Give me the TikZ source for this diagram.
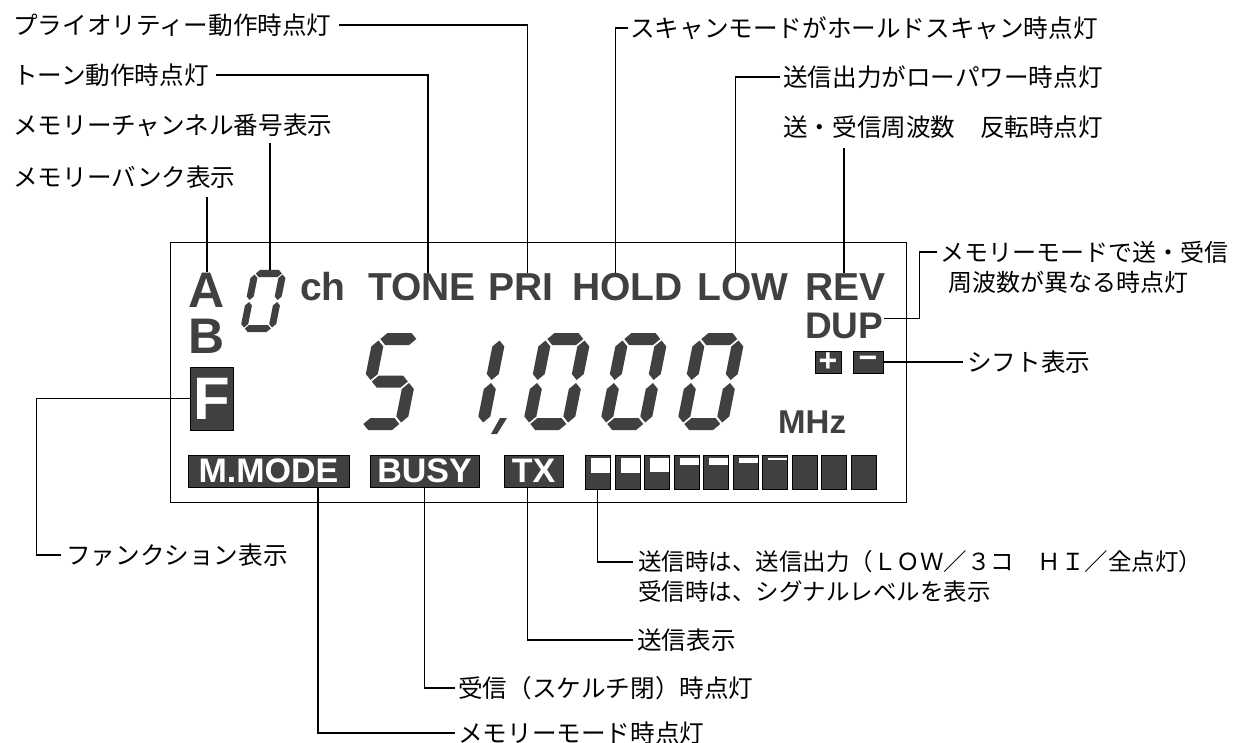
\documentclass[tikz,border=0pt]{standalone}
\usepackage{fontspec}
\newfontfamily\jpfont{Noto Sans CJK JP}
\newfontfamily\lcdfont{Liberation Sans}
\usetikzlibrary{calc}
\definecolor{lcd}{gray}{0.25}
\tikzset{
  lbl/.style={anchor=west, inner sep=0pt, font=\jpfont\fontsize{24.6}{28}\selectfont},
  ld/.style={draw=black, line width=1.1pt},
  word/.style={anchor=base west, inner sep=0pt, text=lcd, font=\lcdfont\bfseries\fontsize{39}{39}\selectfont},
  revbox/.style={fill=lcd, draw=black, line width=0.8pt, text=white, inner sep=0pt, font=\lcdfont\bfseries\fontsize{34}{34}\selectfont},
  seg/.style={fill=lcd},
  lcdframe/.style={draw=black, line width=1pt},
  barbox/.style={fill=lcd, draw=black, line width=0.6pt, minimum width=25pt, minimum height=34pt, inner sep=0pt, anchor=north west},
}
\def\segT{12}\def\segW{51}\def\segH{97}\def\segG{1.5}
\newcommand\HSeg[3]{\fill[seg] ({#1},{#3}) -- ({#1+\segT/2},{#3-\segT/2}) -- ({#2-\segT/2},{#3-\segT/2}) -- ({#2},{#3}) -- ({#2-\segT/2},{#3+\segT/2}) -- ({#1+\segT/2},{#3+\segT/2}) -- cycle;}
\newcommand\VSeg[3]{\fill[seg] ({#1},{#2}) -- ({#1+\segT/2},{#2+\segT/2}) -- ({#1+\segT/2},{#3-\segT/2}) -- ({#1},{#3}) -- ({#1-\segT/2},{#3-\segT/2}) -- ({#1-\segT/2},{#2+\segT/2}) -- cycle;}
\newcommand\SegA{\HSeg{\segT/2+\segG}{\segW-\segT/2-\segG}{\segT/2}}
\newcommand\SegB{\VSeg{\segW-\segT/2}{\segT/2+\segG}{\segH/2-\segG}}
\newcommand\SegC{\VSeg{\segW-\segT/2}{\segH/2+\segG}{\segH-\segT/2-\segG}}
\newcommand\SegD{\HSeg{\segT/2+\segG}{\segW-\segT/2-\segG}{\segH-\segT/2}}
\newcommand\SegE{\VSeg{\segT/2}{\segH/2+\segG}{\segH-\segT/2-\segG}}
\newcommand\SegF{\VSeg{\segT/2}{\segT/2+\segG}{\segH/2-\segG}}
\newcommand\SegM{\HSeg{\segT/2+\segG}{\segW-\segT/2-\segG}{\segH/2}}
\newcommand\DigitAt[3]{\begin{scope}[shift={(#1,#2)},xslant=0.2]#3\end{scope}}
\begin{document}
\begin{tikzpicture}[x=1pt,y=-1pt]
\useasboundingbox (0,0) rectangle (1236,743);

% LCD frame
\draw[lcdframe] (170,243) rectangle (906,502);

% top row words
\node[word, font=\lcdfont\bfseries\fontsize{50}{50}\selectfont] (A) at (188,307) {A};
\node[word, font=\lcdfont\bfseries\fontsize{50}{50}\selectfont] (B) at (188,353) {B};
\node[revbox, minimum width=43pt, minimum height=63pt, font=\lcdfont\bfseries\fontsize{60}{60}\selectfont] (F) at (211.5,398.5) {F};
\node[word] (ch) at (300,300) {ch};
\node[word] (TONE) at (368,300) {TONE};
\node[word] (PRI) at (488,300) {PRI};
\node[word] (HOLD) at (572,300) {HOLD};
\node[word] (LOW) at (697,300) {LOW};
\node[word] (REV) at (805,300) {REV};
\node[word, font=\lcdfont\bfseries\fontsize{37}{37}\selectfont] (DUP) at (805,338) {DUP};
\node[revbox, minimum width=26pt, minimum height=22pt, font=\lcdfont\bfseries\fontsize{32}{32}\selectfont] (plus) at (828,362) {+};
\node[revbox, minimum width=30pt, minimum height=22pt, font=\lcdfont\bfseries\fontsize{32}{32}\selectfont] (minus) at (868,362) {−};
\node[word, font=\lcdfont\bfseries\fontsize{33}{33}\selectfont] (MHz) at (778,433) {MHz};

% channel digit 0
\begingroup
\def\segT{7}\def\segW{35}\def\segH{62}\def\segG{1}
\DigitAt{252}{270}{\SegA\SegB\SegC\SegD\SegE\SegF}
\endgroup
\coordinate (zerotop) at (270,270);

% big frequency digits
\DigitAt{374}{333}{\SegA\SegF\SegM\SegC\SegD}
\DigitAt{456}{333}{\SegB\SegC}
\fill[seg] (500,418) -- (507,418) -- (497,434) -- (491,434) -- cycle;
\DigitAt{541}{333}{\SegA\SegB\SegC\SegD\SegE\SegF}
\DigitAt{618}{333}{\SegA\SegB\SegC\SegD\SegE\SegF}
\DigitAt{695}{333}{\SegA\SegB\SegC\SegD\SegE\SegF}

% bottom row
\node[revbox, minimum width=161pt, minimum height=32pt] (MMODE) at (268.5,471) {M.MODE};
\node[revbox, minimum width=109pt, minimum height=32pt] (BUSY) at (424.5,471) {BUSY};
\node[revbox, minimum width=59pt, minimum height=32pt] (TX) at (533.5,471) {TX};
\foreach \i/\nh in {0/15,1/15,2/14,3/7,4/7,5/5,6/2,7/0,8/0,9/0}{
  \node[barbox] (bar\i) at ({585+29.5*\i},455) {};
  \ifnum\nh>0 \fill[white] ({585+29.5*\i+6},458) rectangle ({585+29.5*\i+25},{458+\nh}); \fi
}

% labels
\node[lbl] (pri) at (13,25) {プライオリティー動作時点灯};
\node[lbl] (tone) at (13,75) {トーン動作時点灯};
\node[lbl] (chan) at (13,125) {メモリーチャンネル番号表示};
\node[lbl] (bank) at (13,177) {メモリーバンク表示};
\node[lbl] (scan) at (630,28) {スキャンモードがホールドスキャン時点灯};
\node[lbl] (lowl) at (783,77) {送信出力がローパワー時点灯};
\node[lbl] (revl) at (783,127) {送・受信周波数　反転時点灯};
\node[lbl, font=\jpfont\fontsize{24}{28}\selectfont] (dupl) at (940,252) {メモリーモードで送・受信};
\node[lbl, font=\jpfont\fontsize{24}{28}\selectfont] (dupl2) at (948,282) {周波数が異なる時点灯};
\node[lbl] (shiftl) at (967,362) {シフト表示};
\node[lbl] (func) at (66,555) {ファンクション表示};
\node[lbl, font=\jpfont\fontsize{23.5}{28}\selectfont] (barl1) at (638,562) {送信時は、送信出力（ＬＯＷ／３コ　ＨＩ／全点灯）};
\node[lbl, font=\jpfont\fontsize{23.5}{28}\selectfont] (barl2) at (638,592) {受信時は、シグナルレベルを表示};
\node[lbl] (txl) at (637,640) {送信表示};
\node[lbl] (busyl) at (458,688) {受信（スケルチ閉）時点灯};
\node[lbl] (model) at (458,733) {メモリーモード時点灯};

% free-end coordinates
\coordinate (chanstart) at (270,143);
\coordinate (bankstart) at (207,197);
\coordinate (revstart) at (844,148);

% leaders
\draw[ld] ([xshift=7pt]pri.east) -| ([xshift=6.5pt]PRI.north);
\draw[ld] ([xshift=7pt]tone.east) -| ([xshift=6pt]TONE.north);
\draw[ld] (chanstart) -- (zerotop);
\draw[ld] (bankstart) -- (bankstart |- A.north);
\draw[ld] ([xshift=-2pt]scan.west) -| ([xshift=-12pt]HOLD.north);
\draw[ld] ([xshift=-3pt]lowl.west) -| ([xshift=-7.5pt]LOW.north);
\draw[ld] (revstart) -- (revstart |- REV.north);
\draw[ld] ([yshift=7pt]DUP.east) -- ++(36,0) |- ([xshift=-3pt]dupl.west);
\draw[ld] (minus.east) -- ([xshift=-4pt]shiftl.west);
\draw[ld] (F.west) -- ++(-153,0) |- ([xshift=-5pt]func.west);
\draw[ld] ([xshift=49.5pt]MMODE.south) |- ([xshift=-3pt]model.west);
\draw[ld] (BUSY.south) |- ([xshift=-3pt]busyl.west);
\draw[ld] ([xshift=-6pt]TX.south) |- ([xshift=-4pt]txl.west);
\draw[ld] (bar0.south) |- ([xshift=-5pt]barl1.west);
\end{tikzpicture}
\end{document}
